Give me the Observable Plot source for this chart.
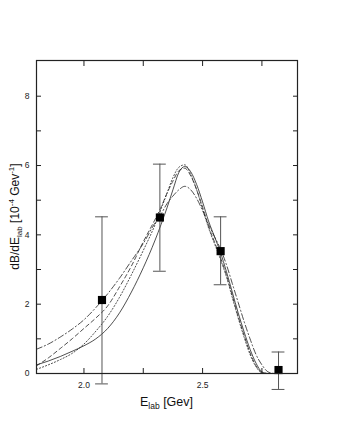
<!DOCTYPE html>
<html>
<head>
<meta charset="utf-8">
<script src="https://cdn.jsdelivr.net/npm/d3@7"></script>
<script src="https://cdn.jsdelivr.net/npm/@observablehq/plot@0.6"></script>
<style>
  html, body { margin: 0; padding: 0; background: white; }
  #chart { width: 346px; height: 448px; }
</style>
</head>
<body>
<div id="chart"></div>
<script>
// ---- data ----
const xGrid = [1.8, 1.85, 1.9, 1.95, 2.0, 2.05, 2.1, 2.15, 2.2, 2.25, 2.3, 2.325, 2.35, 2.375, 2.4, 2.425, 2.45, 2.475, 2.5, 2.525, 2.55, 2.575, 2.6, 2.625, 2.65, 2.675, 2.7, 2.725, 2.75, 2.775, 2.8];
const ySolid   = [0.25, 0.36, 0.49, 0.64, 0.8, 1.0, 1.3, 1.75, 2.35, 3.05, 3.85, 4.3, 4.78, 5.3, 5.8, 5.97, 5.82, 5.45, 4.95, 4.4, 3.95, 3.5, 2.95, 2.35, 1.75, 1.2, 0.7, 0.3, 0.05, 0, 0];
const yDotted  = [0.12, 0.25, 0.4, 0.58, 0.85, 1.22, 1.65, 2.2, 2.85, 3.55, 4.3, 4.75, 5.2, 5.65, 5.95, 6.02, 5.75, 5.3, 4.75, 4.2, 3.75, 3.3, 2.8, 2.2, 1.6, 1.05, 0.55, 0.2, 0.02, 0, 0];
const yDashed  = [0.22, 0.45, 0.72, 1.0, 1.3, 1.6, 1.95, 2.5, 3.1, 3.8, 4.45, 4.8, 5.2, 5.55, 5.85, 5.92, 5.7, 5.3, 4.8, 4.25, 3.8, 3.35, 2.85, 2.25, 1.65, 1.1, 0.6, 0.22, 0.03, 0, 0];
const yDashDot = [0.7, 0.85, 1.05, 1.28, 1.55, 1.9, 2.3, 2.75, 3.25, 3.75, 4.35, 4.6, 4.9, 5.12, 5.3, 5.4, 5.3, 5.05, 4.7, 4.3, 3.95, 3.6, 3.15, 2.6, 2.05, 1.5, 1.0, 0.55, 0.25, 0.05, 0];

const ptX    = [2.076, 2.32, 2.576, 2.82];
const ptY    = [2.12, 4.5, 3.53, 0.1];
const ptLow  = [-0.3, 2.95, 2.56, -0.46];
const ptHigh = [4.52, 6.04, 4.52, 0.62];

const xTicks = [2.0, 2.25, 2.5, 2.75];
const xTickLabels = ["2.0", "", "2.5", ""];
const yTicks = [0, 1, 2, 3, 4, 5, 6, 7, 8];
const yTickLabels = ["0", "", "2", "", "4", "", "6", "", "8"];

// ---- build tables ----
const styles = [
  {name: "solid", y: ySolid, dash: null},
  {name: "dashed", y: yDashed, dash: "4,3"},
  {name: "dotted", y: yDotted, dash: "1.2,2"},
  {name: "dashdot", y: yDashDot, dash: "6,2.5,1.2,2.5"}
];
const points = ptX.map((x, i) => ({x, y: ptY[i], lo: ptLow[i], hi: ptHigh[i]}));
const capHalf = 0.027;

const lineMarks = styles.map(s =>
  Plot.line(xGrid.map((x, i) => ({x, y: s.y[i]})), {
    x: "x", y: "y", stroke: "#222", strokeWidth: 0.8,
    strokeDasharray: s.dash, curve: "monotone-x"
  })
);

const xFmt = d => xTickLabels[xTicks.indexOf(d)];
const yFmt = d => yTickLabels[yTicks.indexOf(d)];

const chart = Plot.plot({
  width: 346, height: 448,
  marginLeft: 36, marginRight: 49, marginTop: 60, marginBottom: 75,
  x: {domain: [1.8, 2.9], label: null},
  y: {domain: [0, 9.03], label: null},
  style: {fontFamily: "'Liberation Sans', Arial, sans-serif", fontSize: "8.5px", background: "white", color: "#222"},
  marks: [
    // ticks (inward)
    Plot.axisY({anchor: "left", ticks: yTicks, tickSize: -5, tickFormat: () => "", label: null}),
    Plot.axisY({anchor: "right", ticks: yTicks, tickSize: -5, tickFormat: () => "", label: null}),
    Plot.axisX({anchor: "bottom", ticks: xTicks, tickSize: -5, tickFormat: () => "", label: null}),
    Plot.axisX({anchor: "top", ticks: xTicks, tickSize: -5, tickFormat: () => "", label: null}),
    // tick labels
    Plot.axisY({anchor: "left", ticks: yTicks, tickSize: 0, tickPadding: 7, tickFormat: yFmt, label: null}),
    Plot.axisX({anchor: "bottom", ticks: xTicks, tickSize: 0, tickPadding: 8, tickFormat: xFmt, label: null}),
    ...lineMarks,
    // error bars
    Plot.ruleX(points, {x: "x", y1: "lo", y2: "hi", stroke: "#555", strokeWidth: 1}),
    Plot.ruleY(points, {y: "hi", x1: d => d.x - capHalf, x2: d => d.x + capHalf, stroke: "#555", strokeWidth: 1}),
    Plot.ruleY(points, {y: "lo", x1: d => d.x - capHalf, x2: d => d.x + capHalf, stroke: "#555", strokeWidth: 1}),
    Plot.dot(points, {x: "x", y: "y", symbol: "square", fill: "black", stroke: "none", r: 4.6}),
    Plot.frame({stroke: "#222", strokeWidth: 1.2})
  ]
});

document.getElementById("chart").appendChild(chart);

// axis titles with sub/superscripts
const svg = d3.select(chart);
const xt = svg.append("text")
  .attr("x", 166.5).attr("y", 406)
  .attr("text-anchor", "middle")
  .style("font-size", "12.5px").style("fill", "#111");
xt.append("tspan").text("E");
xt.append("tspan").attr("dy", 3).style("font-size", "8.5px").text("lab");
xt.append("tspan").attr("dy", -3).text(" [Gev]");

const yt = svg.append("text")
  .attr("transform", "translate(19,216.5) rotate(-90)")
  .attr("text-anchor", "middle")
  .style("font-size", "12px").style("fill", "#111");
yt.append("tspan").text("dB/dE");
yt.append("tspan").attr("dy", 3).style("font-size", "8px").text("lab");
yt.append("tspan").attr("dy", -3).text(" [10");
yt.append("tspan").attr("dy", -5).style("font-size", "8px").text("-4");
yt.append("tspan").attr("dy", 5).text(" Gev");
yt.append("tspan").attr("dy", -5).style("font-size", "8px").text("-1");
yt.append("tspan").attr("dy", 5).text("]");
</script>
</body>
</html>
